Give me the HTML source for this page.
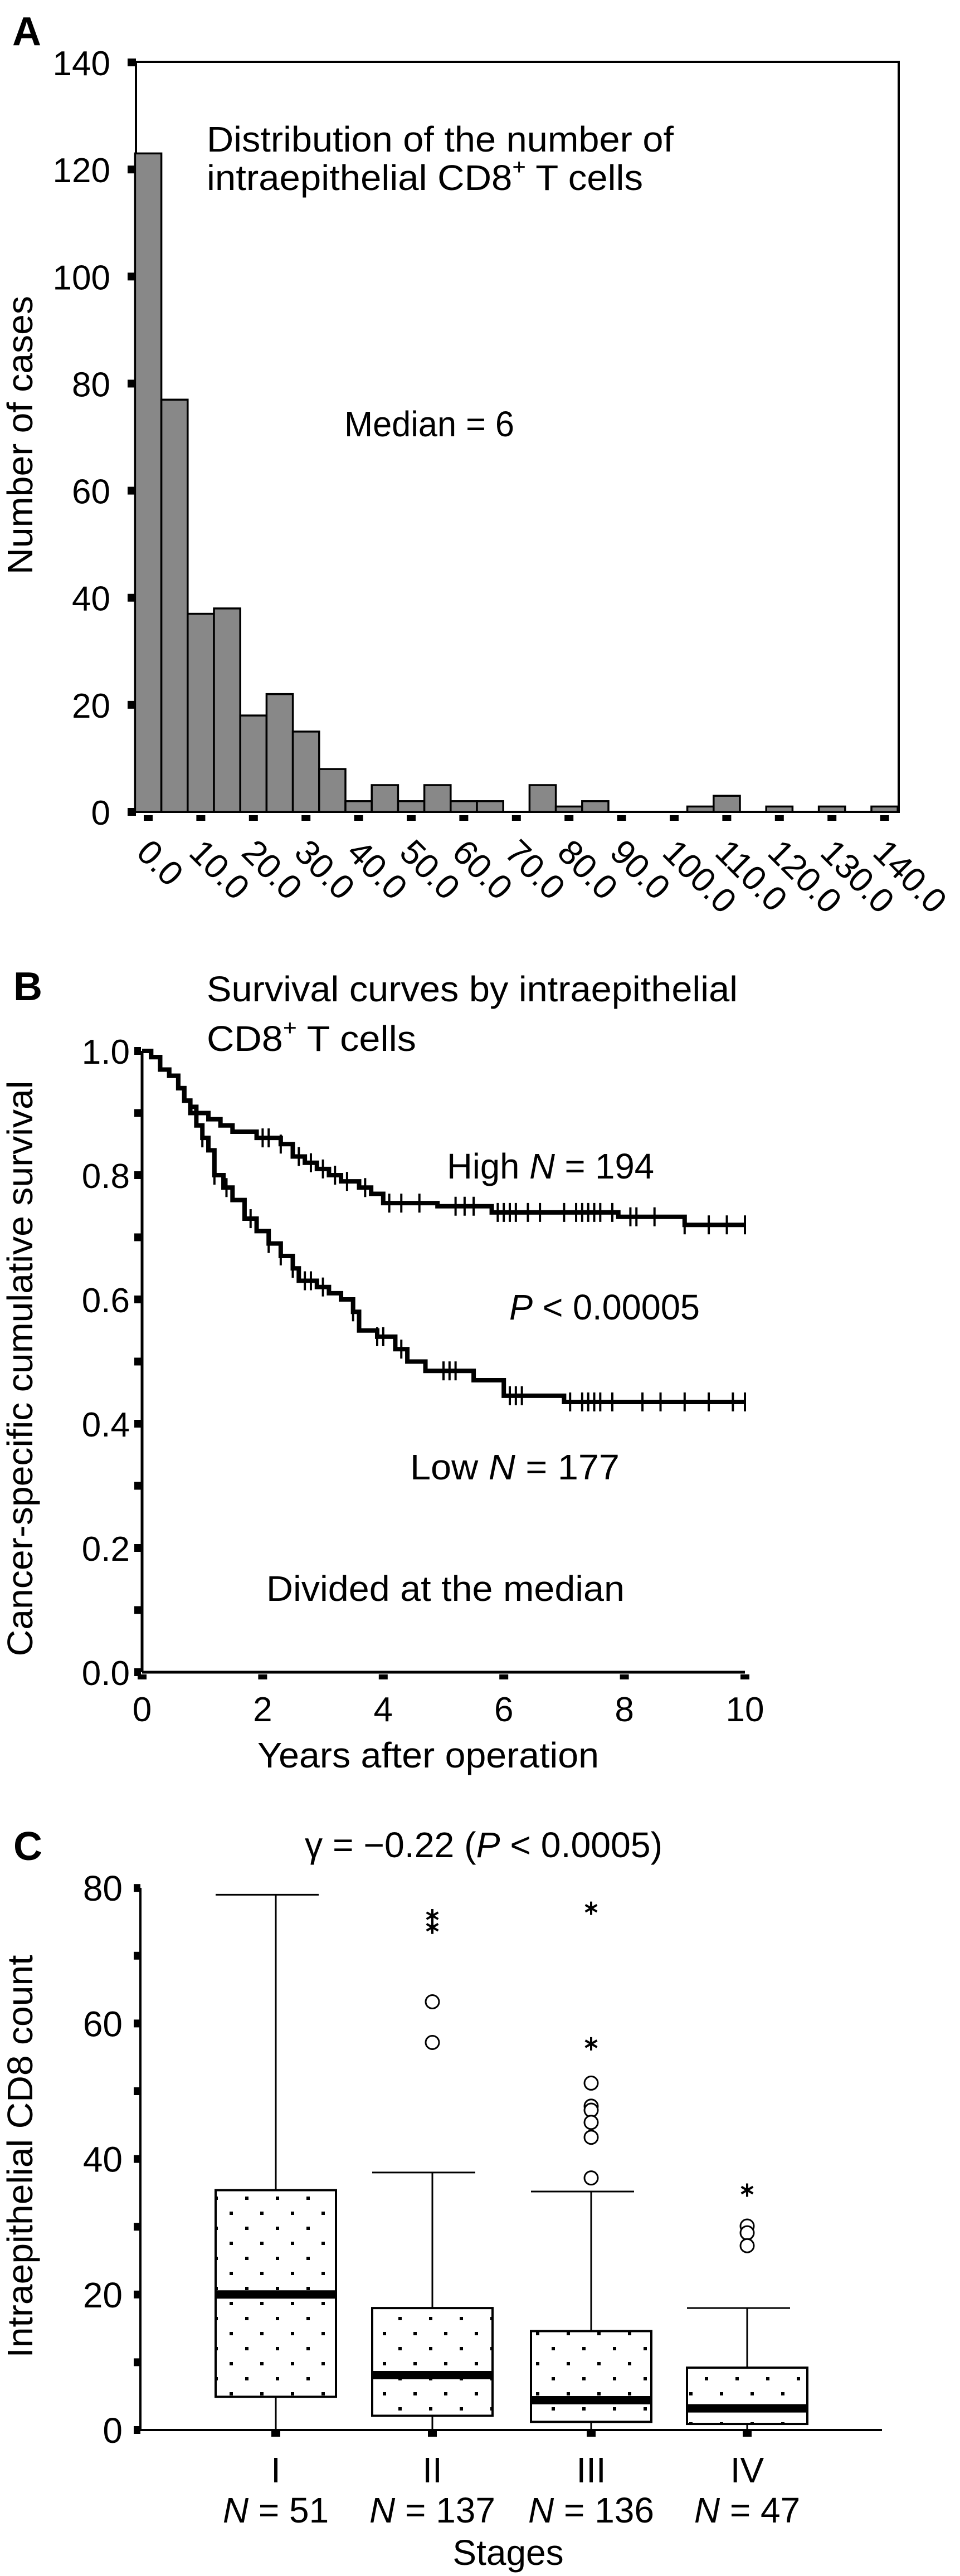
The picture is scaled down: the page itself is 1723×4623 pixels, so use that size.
<!DOCTYPE html>
<html><head><meta charset="utf-8"><style>
html,body{margin:0;padding:0;background:#fff}
svg{display:block}
text{font-family:"Liberation Sans",Arial,sans-serif;fill:#000}
</style></head><body>
<svg id="fig" xmlns="http://www.w3.org/2000/svg" width="1723" height="4623" viewBox="0 0 1723 4623">
<defs>
<pattern id="dots" patternUnits="userSpaceOnUse" width="55" height="54" x="385" y="0">
<rect x="0" y="0" width="6" height="6" fill="#000"/>
<rect x="27" y="27" width="6" height="6" fill="#000"/>
</pattern>
</defs>
<!-- Panel A -->
<g id="panelA">
<text x="22" y="81" font-size="72" font-weight="bold">A</text>
<rect x="244" y="111" width="1369" height="1346" fill="none" stroke="#000" stroke-width="4"/>
<text x="371" y="272" font-size="64" textLength="838" lengthAdjust="spacingAndGlyphs">Distribution of the number of</text>
<text x="371" y="341" font-size="64" textLength="783" lengthAdjust="spacingAndGlyphs">intraepithelial CD8<tspan font-size="40" dy="-28">+</tspan><tspan dy="28"> T cells</tspan></text>
<text x="618" y="783" font-size="64" textLength="305" lengthAdjust="spacingAndGlyphs">Median = 6</text>
<text transform="translate(58,781) rotate(-90)" text-anchor="middle" font-size="64" textLength="500" lengthAdjust="spacingAndGlyphs">Number of cases</text>
</g>
<!-- Panel B -->
<g id="panelB">
<text x="24" y="1795" font-size="72" font-weight="bold">B</text>
<text x="371" y="1797" font-size="64" textLength="953" lengthAdjust="spacingAndGlyphs">Survival curves by intraepithelial</text>
<text x="371" y="1886" font-size="64" textLength="376" lengthAdjust="spacingAndGlyphs">CD8<tspan font-size="40" dy="-28">+</tspan><tspan dy="28"> T cells</tspan></text>
<text x="802" y="2115" font-size="64" textLength="372" lengthAdjust="spacingAndGlyphs">High <tspan font-style="italic">N</tspan> = 194</text>
<text x="914" y="2368" font-size="64" textLength="342" lengthAdjust="spacingAndGlyphs"><tspan font-style="italic">P</tspan> &lt; 0.00005</text>
<text x="736" y="2655" font-size="64" textLength="376" lengthAdjust="spacingAndGlyphs">Low  <tspan font-style="italic">N</tspan> = 177</text>
<text x="478" y="2873" font-size="64" textLength="643" lengthAdjust="spacingAndGlyphs">Divided at the median</text>
<text x="462" y="3172" font-size="64" textLength="613" lengthAdjust="spacingAndGlyphs">Years after operation</text>
<text transform="translate(58,2456) rotate(-90)" text-anchor="middle" font-size="64" textLength="1033" lengthAdjust="spacingAndGlyphs">Cancer-specific cumulative survival</text>
<line x1="255" y1="1886" x2="255" y2="3001" stroke="#000" stroke-width="5"/>
<line x1="255" y1="3001" x2="1337" y2="3001" stroke="#000" stroke-width="5"/>
</g>
<!-- Panel C -->
<g id="panelC">
<text x="24" y="3338" font-size="72" font-weight="bold">C</text>
<text x="547" y="3333" font-size="64" textLength="642" lengthAdjust="spacingAndGlyphs">γ = −0.22 (<tspan font-style="italic">P</tspan> &lt; 0.0005)</text>
<text x="912" y="4603" text-anchor="middle" font-size="64">Stages</text>
<text transform="translate(58,3870) rotate(-90)" text-anchor="middle" font-size="64" textLength="723" lengthAdjust="spacingAndGlyphs">Intraepithelial CD8 count</text>
<line x1="252" y1="3388" x2="252" y2="4361" stroke="#000" stroke-width="4"/>
<line x1="252" y1="4361" x2="1583" y2="4361" stroke="#000" stroke-width="4"/>
</g>
</svg>
<script>
// ---------- Panel A data ----------
const histBins = [0,5,10,15,20,25,30,35,40,45,50,55,60,65,70,75,80,85,90,95,100,105,110,115,120,125,130,135,140];
const histCounts = [123,77,37,38,18,22,15,8,2,5,2,5,2,2,0,5,1,2,0,0,0,1,3,0,1,0,1,0,1];
const histYTicks = [0,20,40,60,80,100,120,140];
const histXTicks = [0,10,20,30,40,50,60,70,80,90,100,110,120,130,140];
const histXLabels = ["0.0","10.0","20.0","30.0","40.0","50.0","60.0","70.0","80.0","90.0","100.0","110.0","120.0","130.0","140.0"];
// ---------- Panel B data ----------
const highTimes = [0,0.15,0.3,0.45,0.6,0.7,0.8,0.9,1.1,1.3,1.5,1.9,2.3,2.5,2.7,2.9,3.1,3.3,3.6,3.8,4.0,4.9,5.8,7.9,9.0];
const highSurv = [1,0.99,0.97,0.96,0.94,0.92,0.91,0.90,0.89,0.88,0.87,0.86,0.85,0.83,0.82,0.81,0.80,0.79,0.78,0.77,0.755,0.75,0.74,0.733,0.72];
const highCensor = [2.0,2.1,2.3,2.6,2.8,3.0,3.2,3.4,3.7,4.1,4.3,4.6,5.2,5.35,5.5,5.9,6.0,6.1,6.2,6.4,6.6,7.0,7.2,7.3,7.4,7.5,7.6,7.8,8.1,8.2,8.5,9.0,9.4,9.7,10.0];
const lowTimes = [0,0.15,0.3,0.45,0.6,0.7,0.8,0.9,1.0,1.1,1.2,1.35,1.5,1.7,1.9,2.1,2.3,2.5,2.6,2.9,3.1,3.3,3.5,3.6,3.9,4.2,4.4,4.7,5.5,6.0,7.0];
const lowSurv = [1,0.99,0.97,0.96,0.94,0.92,0.90,0.88,0.86,0.84,0.80,0.78,0.76,0.73,0.71,0.69,0.67,0.65,0.63,0.62,0.61,0.60,0.58,0.55,0.54,0.52,0.50,0.485,0.47,0.445,0.435];
const lowCensor = [1.0,1.2,1.4,1.8,2.1,2.3,2.5,2.7,2.8,3.0,3.5,3.9,4.0,4.3,5.0,5.1,5.2,6.1,6.2,6.3,7.1,7.3,7.4,7.5,7.6,7.8,8.3,8.6,9.0,9.4,9.8,10.0];
const survYTicks = [0,0.1,0.2,0.3,0.4,0.5,0.6,0.7,0.8,0.9,1.0];
const survYLabels = ["0.0","","0.2","","0.4","","0.6","","0.8","","1.0"];
const survXTicks = [0,2,4,6,8,10];
// ---------- Panel C data ----------
const stages = ["I","II","III","IV"];
const stageN = ["51","137","136","47"];
const boxQ1 = [4.9,2.1,1.2,0.9];
const boxMedian = [20,8.1,4.4,3.2];
const boxQ3 = [35.4,18,14.6,9.2];
const whiskerHigh = [79,38,35.2,18];
const whiskerLow = [0,0,0,0];
const circleOutliers = [[],[63.2,57.2],[51.2,47.8,47.2,45.4,43.2,37.2],[30.1,29.1,27.2]];
const starOutliers = [[],[74.2,75.9],[77,57],[35.4]];
const boxYTicks = [0,10,20,30,40,50,60,70,80];
const boxYLabels = ["0","","20","","40","","60","","80"];

const NS = "http://www.w3.org/2000/svg";
const svg = document.getElementById("fig");
function mk(tag, attrs, parent){
  const e = document.createElementNS(NS, tag);
  for (const k in attrs) e.setAttribute(k, attrs[k]);
  (parent||svg).appendChild(e);
  return e;
}
// ---------- Panel A ----------
const gA = document.getElementById("panelA");
const xA = v => 266 + v*9.44;
const yA = c => 1457 - c*9.607;
histBins.forEach((b,i)=>{
  const r = mk("rect",{x:xA(b)-23.6,y:yA(histCounts[i]),width:47.2,height:yA(0)-yA(histCounts[i]),fill:"#888",stroke:"#000","stroke-width":3.5},gA);
  
  
});
histYTicks.forEach(t=>{
  const s = mk("rect",{x:229,y:yA(t)-7,width:15,height:14,fill:"#000"},gA);
  
  
  const l = mk("text",{x:198,y:yA(t)+23,"text-anchor":"end","font-size":62},gA);
  l.textContent = String(t);
  
  
});
histXTicks.forEach((t,i)=>{
  const s = mk("rect",{x:xA(t)-8,y:1463,width:16,height:10,fill:"#000"},gA);
  
  
  const l = mk("text",{transform:`translate(${xA(t)-24},1533) rotate(45)`,"font-size":62},gA);
  l.textContent = histXLabels[i];
  
  
});
// ---------- Panel B ----------
const gB = document.getElementById("panelB");
const xB = t => 255 + t*108.2;
const yB = s => 3001 - s*1115;
survYTicks.forEach((t,i)=>{
  const s = mk("rect",{x:241,y:yB(t)-7,width:12,height:14,fill:"#000"},gB);
  
  
  if (survYLabels[i]){
    const l = mk("text",{x:233,y:yB(t)+23,"text-anchor":"end","font-size":62},gB);
    l.textContent = survYLabels[i];
    
    
  }
});
survXTicks.forEach(t=>{
  const s = mk("rect",{x:xB(t)-8,y:3005,width:16,height:9,fill:"#000"},gB);
  
  
  const l = mk("text",{x:xB(t),y:3089,"text-anchor":"middle","font-size":62},gB);
  l.textContent = String(t);
  
  
});
function survAt(times, surv, c){ let v = surv[0]; for(let i=0;i<times.length;i++){ if(times[i]<=c) v=surv[i]; } return v; }
function drawCurve(times, surv, censor, name){
  let d = `M${xB(times[0])},${yB(surv[0])}`;
  for(let i=1;i<times.length;i++){ d += ` H${xB(times[i])} V${yB(surv[i])}`; }
  d += ` H${xB(10)}`;
  const p = mk("path",{d:d,fill:"none",stroke:"#000","stroke-width":8,"stroke-linejoin":"miter"},gB);
  
  
  censor.forEach(c=>{
    const y = yB(survAt(times,surv,c));
    const m = mk("line",{x1:xB(c),y1:y-17,x2:xB(c),y2:y+17,stroke:"#000","stroke-width":4},gB);
    
    
  });
}
drawCurve(highTimes, highSurv, highCensor, 'high');
drawCurve(lowTimes, lowSurv, lowCensor, 'low');
// ---------- Panel C ----------
const gC = document.getElementById("panelC");
const yC = v => 4361 - v*12.16;
const centers = [495,776,1061,1341];
const halfW = 108;
boxYTicks.forEach((t,i)=>{
  const s = mk("rect",{x:240,y:yC(t)-7,width:12,height:14,fill:"#000"},gC);
  
  
  if (boxYLabels[i]){
    const l = mk("text",{x:220,y:yC(t)+23,"text-anchor":"end","font-size":64},gC);
    l.textContent = boxYLabels[i];
    
    
  }
});
stages.forEach((st,i)=>{
  const cx = centers[i];
  const tk = mk("rect",{x:cx-8,y:4363,width:16,height:10,fill:"#000"},gC);
  
  
  const w1 = mk("line",{x1:cx,y1:yC(boxQ3[i]),x2:cx,y2:yC(whiskerHigh[i]),stroke:"#000","stroke-width":3},gC);
  
  
  const cap = mk("line",{x1:cx-halfW,y1:yC(whiskerHigh[i]),x2:cx+77,y2:yC(whiskerHigh[i]),stroke:"#000","stroke-width":3},gC);
  
  
  const w2 = mk("line",{x1:cx,y1:yC(boxQ1[i]),x2:cx,y2:yC(whiskerLow[i]),stroke:"#000","stroke-width":3},gC);
  
  
  const b = mk("rect",{x:cx-halfW,y:yC(boxQ3[i]),width:halfW*2,height:yC(boxQ1[i])-yC(boxQ3[i]),fill:"url(#dots)",stroke:"#000","stroke-width":4},gC);
  
  
  const m = mk("line",{x1:cx-halfW,y1:yC(boxMedian[i]),x2:cx+halfW,y2:yC(boxMedian[i]),stroke:"#000","stroke-width":15},gC);
  
  
  circleOutliers[i].forEach(v=>{
    const c = mk("circle",{cx:cx,cy:yC(v),r:12,fill:"#fff",stroke:"#000","stroke-width":3},gC);
    
    
  });
  starOutliers[i].forEach(v=>{
    const y = yC(v), r = 12;
    const d = `M${cx},${y-r} V${y+r} M${cx-r*0.87},${y-r*0.5} L${cx+r*0.87},${y+r*0.5} M${cx-r*0.87},${y+r*0.5} L${cx+r*0.87},${y-r*0.5}`;
    const s = mk("path",{d:d,stroke:"#000","stroke-width":4,fill:"none"},gC);
    
    
  });
  const l1 = mk("text",{x:cx,y:4455,"text-anchor":"middle","font-size":64},gC);
  l1.textContent = st;
  
  
  const l2 = mk("text",{x:cx,y:4527,"text-anchor":"middle","font-size":64},gC);
  l2.innerHTML = '<tspan font-style="italic">N</tspan> = ' + stageN[i];
  
  
});
</script>
</body></html>
